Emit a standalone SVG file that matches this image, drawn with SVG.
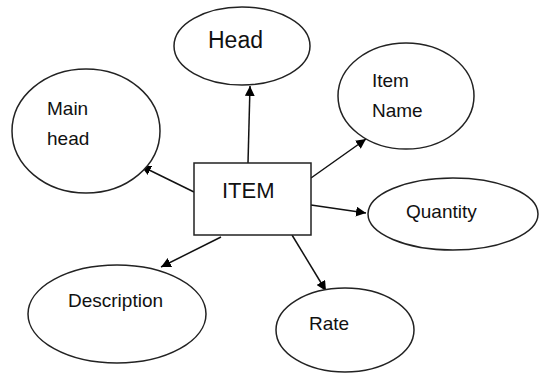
<svg xmlns="http://www.w3.org/2000/svg" width="540" height="373" viewBox="0 0 540 373">
<style>
.n{fill:#fff;stroke:#222;stroke-width:1.5}
.t{font-family:"Liberation Sans",Arial,sans-serif;font-size:19px;fill:#111}
.c{stroke:#111;stroke-width:1.5;fill:none;marker-end:url(#ah)}
</style>
<defs>
<marker id="ah" viewBox="0 0 10 10" refX="10" refY="5" markerWidth="10" markerHeight="10" markerUnits="userSpaceOnUse" orient="auto">
<path d="M0,0 L10,5 L0,10 z" fill="#000"/>
</marker>
</defs>
<rect width="540" height="373" fill="#fff"/>
<g id="connectors">
<line class="c" x1="248" y1="163" x2="250" y2="86"/>
<line class="c" x1="194" y1="192" x2="141" y2="166"/>
<line class="c" x1="311" y1="178" x2="366" y2="139"/>
<line class="c" x1="311" y1="205" x2="366" y2="213"/>
<line class="c" x1="292" y1="235" x2="326" y2="291"/>
<line class="c" x1="221" y1="237" x2="161" y2="267"/>
</g>
<g id="head">
<ellipse class="n" cx="242" cy="46" rx="68" ry="39"/>
<text class="t" x="208" y="48" style="font-size:23px">Head</text>
</g>
<g id="mainhead">
<ellipse class="n" cx="86" cy="131" rx="74" ry="62"/>
<text class="t" x="47" y="115">Main</text>
<text class="t" x="47" y="145">head</text>
</g>
<g id="itemname">
<ellipse class="n" cx="406" cy="96" rx="68" ry="53"/>
<text class="t" x="372" y="87">Item</text>
<text class="t" x="372" y="117">Name</text>
</g>
<g id="quantity">
<ellipse class="n" cx="453" cy="214" rx="85" ry="36"/>
<text class="t" x="406" y="218">Quantity</text>
</g>
<g id="rate">
<ellipse class="n" cx="345" cy="330" rx="69" ry="42"/>
<text class="t" x="309" y="330">Rate</text>
</g>
<g id="description">
<ellipse class="n" cx="117" cy="314" rx="89" ry="49"/>
<text class="t" x="68" y="307">Description</text>
</g>
<g id="item">
<rect class="n" x="194" y="163" width="117" height="72"/>
<text class="t" x="222" y="198" style="font-size:22px">ITEM</text>
</g>
</svg>
